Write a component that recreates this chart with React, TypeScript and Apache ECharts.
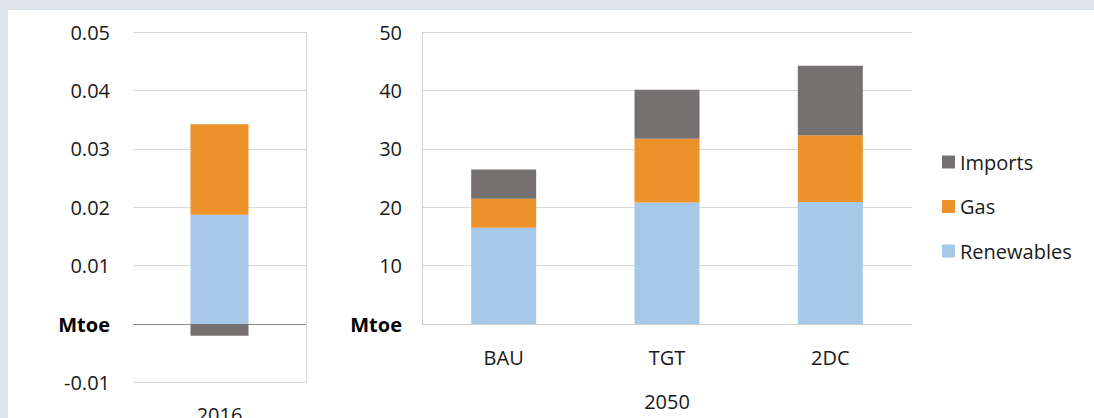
import React, { useEffect, useRef } from "react";
import * as echarts from "echarts";

const leftCategories = ["2016"];
const rightCategories = ["BAU", "TGT", "2DC"];
const seriesNames = ["Renewables", "Gas", "Imports"];
const leftRenewables = [0.0187];
const leftGas = [0.0155];
const leftImports = [-0.002];
const rightRenewables = [16.5, 20.8, 20.9];
const rightGas = [4.95, 10.9, 11.4];
const rightImports = [5.0, 8.4, 11.9];
const rightGroupLabel = "2050";
const unitLabel = "Mtoe";

const COLORS: Record<string, string> = {
  Renewables: "#A6C9EA",
  Gas: "#ED922B",
  Imports: "#767171",
};

const FONT = "'Open Sans', 'Noto Sans', sans-serif";
const TXT = "#1a1a1a";
const GRID_LINE = "#d9d9d9";
const FS = 20;

export default function App() {
  const ref = useRef<HTMLDivElement>(null);
  useEffect(() => {
    if (!ref.current) return;
    const chart = echarts.init(ref.current, undefined, { renderer: "svg" });
    const leftData = [leftRenewables, leftGas, leftImports];
    const rightData = [rightRenewables, rightGas, rightImports];
    const series: any[] = [];
    seriesNames.forEach((n, i) => {
      series.push({
        name: n,
        type: "bar",
        stack: "left",
        xAxisIndex: 0,
        yAxisIndex: 0,
        barWidth: 58,
        data: leftData[i],
        itemStyle: { color: COLORS[n] },
      });
    });
    seriesNames.forEach((n, i) => {
      series.push({
        name: n,
        type: "bar",
        stack: "right",
        xAxisIndex: 1,
        yAxisIndex: 1,
        barWidth: 65,
        data: rightData[i],
        itemStyle: { color: COLORS[n] },
      });
    });
    const option: any = {
      animation: false,
      textStyle: { fontFamily: FONT },
      legend: {
        orient: "vertical",
        left: 942,
        top: 152,
        padding: 0,
        itemWidth: 13,
        itemHeight: 13,
        itemGap: 24.5,
        icon: "rect",
        data: ["Imports", "Gas", "Renewables"],
        textStyle: { fontFamily: FONT, fontSize: FS, color: TXT, lineHeight: 20 },
      },
      grid: [
        { left: 133, top: 32, width: 173, height: 350.4, outerBoundsMode: "none", containLabel: false },
        { left: 422, top: 32, width: 490, height: 292, outerBoundsMode: "none", containLabel: false },
      ],
      xAxis: [
        {
          type: "category",
          gridIndex: 0,
          data: leftCategories,
          axisLine: { show: false, onZero: false },
          axisTick: { show: false },
          axisLabel: { margin: 22, fontSize: FS, color: TXT, fontFamily: FONT },
        },
        {
          type: "category",
          gridIndex: 1,
          data: rightCategories,
          axisLine: { show: true, lineStyle: { color: "#d0d0d0" } },
          axisTick: { show: false },
          axisLabel: { margin: 23, fontSize: FS, color: TXT, fontFamily: FONT },
          name: rightGroupLabel,
          nameLocation: "middle",
          nameGap: 67,
          nameTextStyle: { fontSize: FS, color: TXT, fontFamily: FONT },
        },
      ],
      yAxis: [
        {
          type: "value",
          gridIndex: 0,
          min: -0.01,
          max: 0.05,
          interval: 0.01,
          axisLine: { show: false },
          axisTick: { show: false },
          splitLine: {
            lineStyle: {
              color: [GRID_LINE, "#8c8c8c", GRID_LINE, GRID_LINE, GRID_LINE, GRID_LINE, GRID_LINE],
            },
          },
          axisLabel: {
            margin: 23,
            fontSize: FS,
            color: TXT,
            fontFamily: FONT,
            formatter: (v: number) => (Math.abs(v) < 1e-9 ? "{b|" + unitLabel + "}" : v.toFixed(2)),
            rich: { b: { fontWeight: "bold", fontSize: FS, color: "#000", fontFamily: FONT } },
          },
        },
        {
          type: "value",
          gridIndex: 1,
          min: 0,
          max: 50,
          interval: 10,
          axisLine: { show: true, lineStyle: { color: "#d0d0d0" } },
          axisTick: { show: false },
          splitLine: { lineStyle: { color: GRID_LINE } },
          axisLabel: {
            margin: 20,
            fontSize: FS,
            color: TXT,
            fontFamily: FONT,
            formatter: (v: number) => (v === 0 ? "{b|" + unitLabel + "}" : String(v)),
            rich: { b: { fontWeight: "bold", fontSize: FS, color: "#000", fontFamily: FONT } },
          },
        },
        {
          type: "value",
          gridIndex: 0,
          position: "right",
          min: -0.01,
          max: 0.05,
          interval: 0.01,
          axisLine: { show: true, lineStyle: { color: GRID_LINE } },
          axisTick: { show: false },
          axisLabel: { show: false },
          splitLine: { show: false },
        },
      ],
      series,
    };
    chart.setOption(option);
    return () => chart.dispose();
  }, []);
  return (
    <div
      style={{
        position: "fixed",
        left: 0,
        top: 0,
        width: 1094,
        height: 418,
        background: "#dde4ec",
        overflow: "hidden",
      }}
    >
      <div
        style={{
          position: "absolute",
          left: 8,
          top: 10,
          right: 0,
          bottom: 0,
          background: "#ffffff",
        }}
      />
      <div ref={ref} style={{ position: "absolute", left: 0, top: 0, width: 1094, height: 418 }} />
    </div>
  );
}
